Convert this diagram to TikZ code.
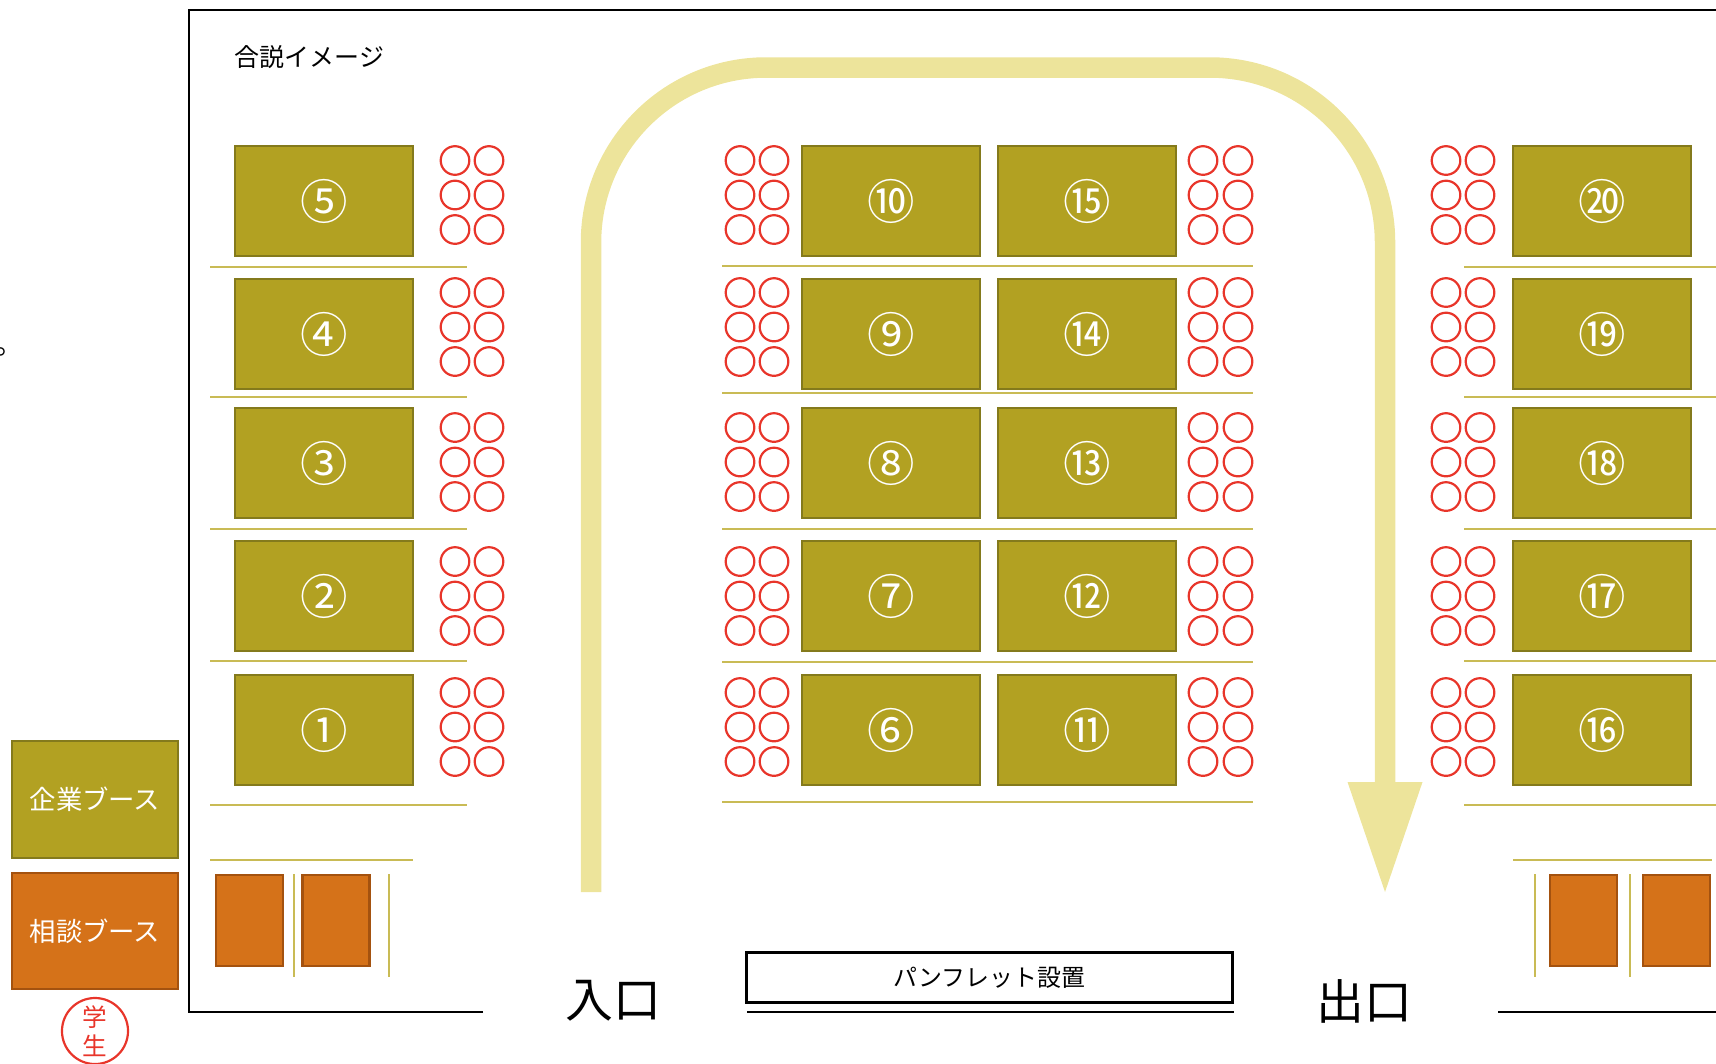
\documentclass[tikz,border=0pt]{standalone}
\usepackage{fontspec}
\newfontfamily\jp{Noto Sans CJK JP}
\definecolor{booth}{HTML}{B2A122}
\definecolor{boothline}{HTML}{847A1C}
\definecolor{sepline}{HTML}{C9BB55}
\definecolor{consult}{HTML}{D57219}
\definecolor{consultline}{HTML}{A4520F}
\definecolor{chair}{HTML}{E8352A}
\definecolor{flow}{HTML}{EDE49B}
\tikzset{
  boothbox/.style={draw=boothline, fill=booth, line width=0.028cm, text=white,
    minimum width=1.78cm, minimum height=1.10cm, inner sep=0pt, outer sep=0pt,
    font=\jp\fontsize{13.5}{13.5}\selectfont},
  consultbox/.style={draw=consultline, fill=consult, line width=0.028cm,
    minimum width=0.67cm, minimum height=0.91cm, inner sep=0pt},
  chairc/.style={circle, draw=chair, line width=0.022cm, minimum size=0.286cm, inner sep=0pt},
  sep/.style={draw=sepline, line width=0.022cm},
  frame/.style={draw=black, line width=0.028cm},
  jptext/.style={font=\jp\fontsize{7.1}{7.1}\selectfont, inner sep=0pt},
  bigtext/.style={font=\jp\fontsize{13.6}{13.6}\selectfont, inner sep=0pt},
  flowline/.style={draw=flow, line width=0.205cm, rounded corners=1.75cm},
}
\begin{document}
\begin{tikzpicture}[x=0.01cm, y=-0.01cm]
\useasboundingbox (0,0) rectangle (1716,1063);

% outer frame
\coordinate (fbl) at (483,1012);
\coordinate (fcl) at (189,1012);
\coordinate (ftl) at (189,10);
\coordinate (ftr) at (1716,10);
\coordinate (fbr1) at (1498,1012);
\coordinate (fbr2) at (1716,1012);
\draw[frame] (fbl) -- (fcl) -- (ftl) -- (ftr);
\draw[frame] (fbr1) -- (fbr2);

% cut-off text at left
\node[font=\jp\fontsize{8}{8}\selectfont, inner sep=0pt, anchor=base west] (dot) at (-5,354) {。};

% title
\node[jptext, anchor=west] (title) at (234,57) {合説イメージ};

% flow path
\coordinate (entry) at (591,892);
\coordinate (c1) at (591,67.5);
\coordinate (c2) at (1385,67.5);
\coordinate (exitshaft) at (1385,784);
\draw[flowline] (entry) -- (c1) -- (c2) -- (exitshaft);
\coordinate (hl) at (1347.5,782);
\coordinate (hr) at (1422.5,782);
\coordinate (tip) at (1385,892);
\fill[flow] (hl) -- (hr) -- (tip) -- cycle;

% booths
\foreach \n/\x/\y/\t in {
  5/324/201/⑤, 4/324/334/④, 3/324/463/③, 2/324/596/②, 1/324/730/①,
  10/891/201/⑩, 9/891/334/⑨, 8/891/463/⑧, 7/891/596/⑦, 6/891/730/⑥,
  15/1087/201/⑮, 14/1087/334/⑭, 13/1087/463/⑬, 12/1087/596/⑫, 11/1087/730/⑪,
  20/1602/201/⑳, 19/1602/334/⑲, 18/1602/463/⑱, 17/1602/596/⑰, 16/1602/730/⑯}
  { \node[boothbox] (b\n) at (\x,\y) {\raisebox{-0.025cm}{\t}}; }

% chairs
\foreach \g/\xa/\xb in {A/455/489, B/740/774, C/1203/1238, D/1446/1480}
  \foreach \r/\ym in {5/195, 4/327, 3/462, 2/596, 1/727}
    \foreach \k/\dy in {1/-34.5, 2/0, 3/34.5}
    {
      \node[chairc] (ch\g\r\k a) at (\xa,\ym+\dy) {};
      \node[chairc] (ch\g\r\k b) at (\xb,\ym+\dy) {};
    }

% separator lines
\foreach \y in {267,397,529,661,805} { \draw[sep] (210,\y) -- (467,\y); }
\draw[sep] (210,860) -- (413,860);
\foreach \y in {266,393,529,662,802} { \draw[sep] (722,\y) -- (1253,\y); }
\foreach \y in {267,397,529,661,805} { \draw[sep] (1464,\y) -- (1716,\y); }
\draw[sep] (1513,860) -- (1712,860);
\foreach \x in {294,389,1535,1630} { \draw[sep] (\x,874) -- (\x,977); }

% consultation booths
\node[consultbox] (s1) at (249.5,920.5) {};
\node[consultbox] (s2) at (336,920.5) {};
\node[consultbox] (s3) at (1583.5,920.5) {};
\node[consultbox] (s4) at (1676.5,920.5) {};

% pamphlet
\node[draw=black, line width=0.03cm, minimum width=4.85cm, minimum height=0.50cm,
      inner sep=0pt, font=\jp\fontsize{6.8}{6.8}\selectfont] (pamph) at (989.5,977.5) {パンフレット設置};
\coordinate (pl1) at (747,1012);
\coordinate (pl2) at (1234,1012);
\draw[frame] (pl1) -- (pl2);

% entrance / exit
\node[bigtext] (entrance) at (613,1001) {入口};
\node[bigtext] (exit) at (1364,1001) {出口};

% legend
\node[draw=boothline, fill=booth, line width=0.028cm, minimum width=1.66cm, minimum height=1.17cm,
      inner sep=0pt, text=white, font=\jp\fontsize{7.5}{7.5}\selectfont] (leg1) at (95,799.5) {企業ブース};
\node[draw=consultline, fill=consult, line width=0.028cm, minimum width=1.66cm, minimum height=1.16cm,
      inner sep=0pt, text=white, font=\jp\fontsize{7.5}{7.5}\selectfont] (leg2) at (95,931) {相談ブース};
\node[circle, draw=chair, line width=0.022cm, minimum size=0.66cm, inner sep=0pt,
      text=chair, align=center, font=\jp\fontsize{7}{8.2}\selectfont] (student) at (95,1031) {学\\生};
\end{tikzpicture}
\end{document}
